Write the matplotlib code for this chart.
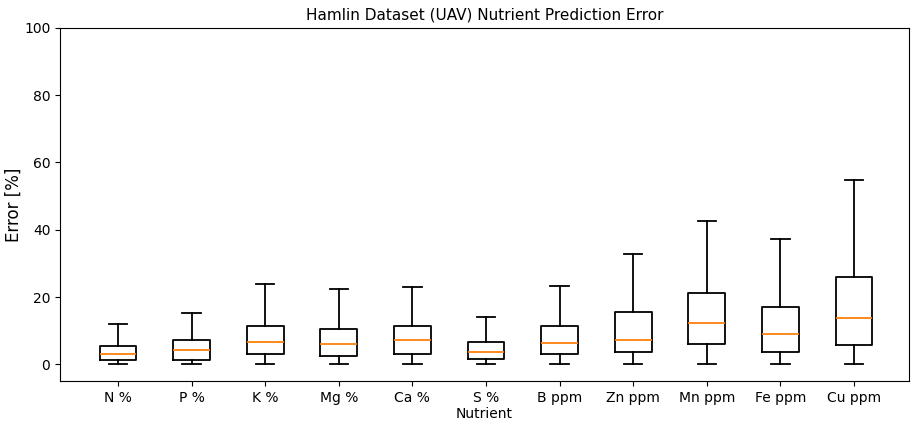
import matplotlib
matplotlib.use("Agg")
import matplotlib.pyplot as plt

categories = ["N %", "P %", "K %", "Mg %", "Ca %", "S %", "B ppm", "Zn ppm", "Mn ppm", "Fe ppm", "Cu ppm"]
whis_low = [0, 0, 0, 0, 0, 0, 0, 0, 0, 0, 0]
q1 = [1.2, 1.2, 3.1, 2.4, 3.2, 1.6, 3.0, 3.7, 6.1, 3.7, 5.9]
median = [3.0, 4.3, 6.6, 6.0, 7.2, 3.6, 6.4, 7.2, 12.3, 9.0, 13.7]
q3 = [5.5, 7.3, 11.5, 10.4, 11.4, 6.7, 11.4, 15.5, 21.1, 17.1, 26.1]
whis_high = [11.9, 15.4, 24.0, 22.5, 23.1, 14.0, 23.2, 32.8, 42.6, 37.3, 54.9]

stats = []
for i, name in enumerate(categories):
    stats.append(dict(label=name, whislo=whis_low[i], q1=q1[i], med=median[i],
                      q3=q3[i], whishi=whis_high[i], fliers=[]))

lw = 1.3
fig = plt.figure(figsize=(9.11, 4.24), dpi=100)
ax = fig.add_axes([0.0659, 0.1007, 0.9321, 0.834])
ax.bxp(stats, showfliers=False,
       boxprops=dict(linewidth=lw), whiskerprops=dict(linewidth=lw),
       capprops=dict(linewidth=lw), medianprops=dict(linewidth=lw, color="#ff7f0e"))
ax.set_xlim(0.212, 11.75)
ax.set_ylim(-5, 100)
ax.set_yticks([0, 20, 40, 60, 80, 100])
ax.tick_params(labelsize=10)
ax.set_title("Hamlin Dataset (UAV) Nutrient Prediction Error", fontsize=11)
ax.set_ylabel("Error [%]", fontsize=12, labelpad=1)
ax.set_xlabel("Nutrient", fontsize=10, labelpad=1.5)
fig.savefig("out.png", dpi=100)
